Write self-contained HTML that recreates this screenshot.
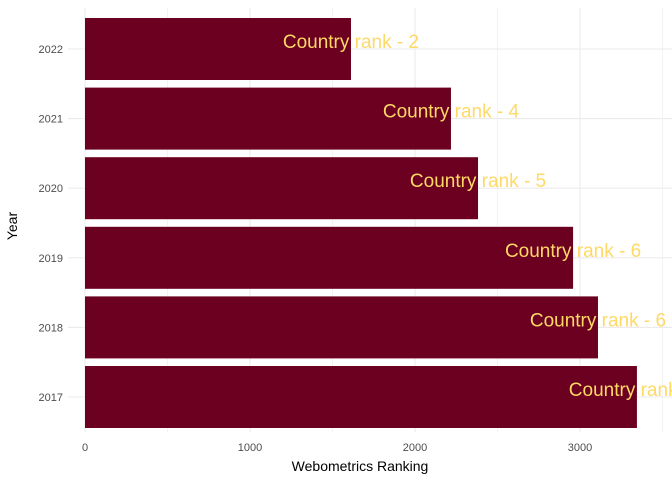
<!DOCTYPE html>
<html><head><meta charset="utf-8"><style>
html,body{margin:0;padding:0;background:#fff;}
svg{display:block;font-family:"Liberation Sans",Arial,sans-serif;}
</style></head><body>
<svg id="chart" width="672" height="480" viewBox="0 0 672 480"></svg>
<script>
const years = ["2017","2018","2019","2020","2021","2022"];
const ranking = [3345, 3109, 2958, 2382, 2218, 1612];
const countryRank = ["Country rank - 6","Country rank - 6","Country rank - 6","Country rank - 5","Country rank - 4","Country rank - 2"];
const xTicks = [0, 1000, 2000, 3000];
const xMinor = [500, 1500, 2500, 3500];

const NS = "http://www.w3.org/2000/svg";
const svg = document.getElementById("chart");
const panelTop = 8, panelBottom = 432, panelLeft = 68, panelRight = 672;
const x = v => 85 + v * 0.165;
const step = 69.6;
const y = i => 397 - i * step;
const barH = 62;
function mk(tag, attrs, parent) {
  const e = document.createElementNS(NS, tag);
  for (const k in attrs) e.setAttribute(k, attrs[k]);
  (parent || svg).appendChild(e);
  return e;
}
xMinor.forEach(v => {
  const l = mk("line", {x1: x(v), x2: x(v), y1: panelTop, y2: panelBottom, stroke: "#ebebeb", "stroke-width": 0.6});
  
  
});
xTicks.forEach(v => {
  const l = mk("line", {x1: x(v), x2: x(v), y1: panelTop, y2: panelBottom, stroke: "#ebebeb", "stroke-width": 1.1});
  
  
  const t = mk("text", {x: x(v), y: 451, "text-anchor": "middle", "font-size": 11, fill: "#4d4d4d"});
  t.textContent = v;
  
  
});
years.forEach((yr, i) => {
  const l = mk("line", {x1: panelLeft, x2: panelRight, y1: y(i), y2: y(i), stroke: "#ebebeb", "stroke-width": 1.1});
  
  
});
years.forEach((yr, i) => {
  const r = mk("rect", {x: x(0), y: y(i) - barH/2, width: x(ranking[i]) - x(0), height: barH, fill: "#6b0020"});
  
  
  const t = mk("text", {x: 63, y: y(i) + 4, "text-anchor": "end", "font-size": 11, fill: "#4d4d4d"});
  t.textContent = yr;
  
  
  const lab = mk("text", {x: x(ranking[i]), y: y(i) - 1, "text-anchor": "middle", "font-size": 19, fill: "#ffd966"});
  lab.textContent = countryRank[i];
  
  
});
const xt = mk("text", {x: 360, y: 471, "text-anchor": "middle", "font-size": 14, fill: "#000"});
xt.textContent = "Webometrics Ranking";


const yt = mk("text", {x: 17, y: 226, "text-anchor": "middle", "font-size": 14, fill: "#000", transform: "rotate(-90 17 226)"});
yt.textContent = "Year";


</script>
</body></html>
